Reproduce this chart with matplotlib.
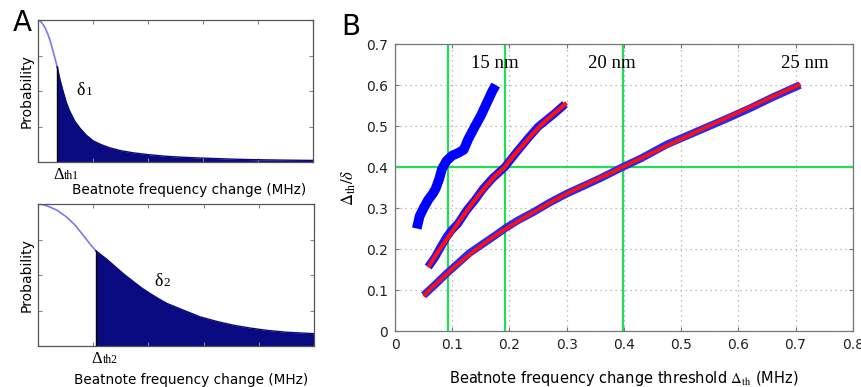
import matplotlib.pyplot as plt
import numpy as np

plt.rcParams['mathtext.fontset'] = 'stix'

# Panel A: probability curves (arbitrary units)
top_x = [0, 0.009, 0.018, 0.027, 0.036, 0.045, 0.055, 0.07, 0.08, 0.091, 0.103, 0.115, 0.133, 0.152, 0.175,
         0.2, 0.23, 0.261, 0.3, 0.345, 0.4, 0.467, 0.53, 0.588, 0.65, 0.709, 0.77, 0.83, 0.9, 1.0]
top_y = [1.0, 0.99, 0.97, 0.94, 0.90, 0.85, 0.78, 0.67, 0.58, 0.50, 0.42, 0.36, 0.29, 0.24, 0.19,
         0.15, 0.122, 0.10, 0.08, 0.065, 0.052, 0.04, 0.033, 0.028, 0.024, 0.02, 0.017, 0.015, 0.013, 0.011]
top_thr = 0.07

bot_x = [0, 0.021, 0.042, 0.07, 0.103, 0.135, 0.164, 0.19, 0.21, 0.25, 0.285, 0.315, 0.345, 0.375, 0.406,
         0.437, 0.467, 0.53, 0.588, 0.65, 0.709, 0.77, 0.83, 0.9, 1.0]
bot_y = [1.0, 0.995, 0.98, 0.955, 0.91, 0.85, 0.78, 0.715, 0.67, 0.61, 0.55, 0.50, 0.455, 0.41, 0.37,
         0.333, 0.30, 0.25, 0.205, 0.172, 0.146, 0.126, 0.11, 0.097, 0.087]
bot_thr = 0.21

# Panel B: measured curves (blue) and fits (red)
x15 = [0.038, 0.043, 0.050, 0.058, 0.066, 0.071, 0.077, 0.082, 0.090, 0.100, 0.110, 0.120, 0.128, 0.140,
       0.150, 0.160, 0.170, 0.176]
y15 = [0.25, 0.28, 0.30, 0.32, 0.335, 0.347, 0.37, 0.395, 0.415, 0.428, 0.434, 0.442, 0.468, 0.50,
       0.525, 0.555, 0.585, 0.60]

x20 = [0.058, 0.070, 0.080, 0.090, 0.099, 0.110, 0.125, 0.140, 0.154, 0.170, 0.192, 0.210, 0.230,
       0.250, 0.265, 0.280, 0.297]
y20 = [0.156, 0.18, 0.205, 0.229, 0.246, 0.262, 0.294, 0.32, 0.347, 0.372, 0.40, 0.432, 0.466,
       0.498, 0.515, 0.532, 0.553]
fx20 = [0.060, 0.070, 0.080, 0.090, 0.100, 0.112, 0.125, 0.137, 0.150, 0.162, 0.175, 0.192, 0.205,
        0.220, 0.235, 0.250, 0.262, 0.275, 0.287, 0.297]
fy20 = [0.16, 0.182, 0.203, 0.223, 0.243, 0.267, 0.292, 0.315, 0.338, 0.358, 0.378, 0.40, 0.424,
        0.448, 0.472, 0.495, 0.511, 0.527, 0.541, 0.553]

x25 = [0.050, 0.060, 0.070, 0.090, 0.110, 0.130, 0.154, 0.175, 0.192, 0.215, 0.242, 0.270, 0.300,
       0.330, 0.358, 0.398, 0.430, 0.475, 0.510, 0.550, 0.580, 0.620, 0.660, 0.708]
y25 = [0.087, 0.10, 0.113, 0.14, 0.165, 0.19, 0.213, 0.233, 0.25, 0.27, 0.29, 0.313, 0.335,
       0.354, 0.372, 0.40, 0.421, 0.455, 0.476, 0.50, 0.518, 0.543, 0.570, 0.60]
fx25 = [0.052, 0.065, 0.080, 0.100, 0.120, 0.140, 0.160, 0.180, 0.200, 0.225, 0.250, 0.275, 0.300,
        0.325, 0.350, 0.375, 0.398, 0.425, 0.450, 0.475, 0.500, 0.525, 0.550, 0.575, 0.600, 0.625,
        0.650, 0.675, 0.706]
fy25 = [0.088, 0.107, 0.125, 0.152, 0.175, 0.197, 0.218, 0.237, 0.255, 0.276, 0.296, 0.316, 0.335,
        0.352, 0.368, 0.384, 0.40, 0.418, 0.435, 0.452, 0.468, 0.485, 0.501, 0.517, 0.533, 0.549,
        0.565, 0.581, 0.60]

green_x = [0.093, 0.192, 0.398]
green_y = 0.4
labels = [('15 nm', 0.175), ('20 nm', 0.379), ('25 nm', 0.717)]

navy = '#0a0a80'
green = '#22dd55'

fig = plt.figure(figsize=(8.61, 3.87), dpi=100)

def prob_panel(rect, xs, ys, thr, delta_num, delta_pos):
    ax = fig.add_axes(rect)
    xs = np.array(xs)
    ys = np.array(ys)
    pre = xs <= thr
    ax.plot(xs[pre], ys[pre], color='#7a7aee', lw=1.2)
    post = xs >= thr
    ax.fill_between(xs[post], 0, ys[post], color=navy, lw=0)
    ax.plot(xs[post], ys[post], color=navy, lw=1)
    ax.plot([thr, thr], [0, ys[post][0]], color='black', lw=1)
    ax.set_xlim(0, 1)
    ax.set_ylim(0, 1)
    ax.set_xticks(np.arange(0, 1.01, 0.2))
    ax.set_yticks(np.arange(0, 1.01, 0.25))
    ax.tick_params(direction='in', length=3, top=True, right=True,
                   labelbottom=False, labelleft=False, color='#888888')
    for s in ax.spines.values():
        s.set_color('#555555')
        s.set_linewidth(0.9)
    ax.set_ylabel('Probability', fontsize=10, labelpad=3)
    # delta label: greek letter with small digit on baseline
    ax.text(delta_pos[0], delta_pos[1], '\u03b4', fontsize=13, family='Liberation Serif',
            ha='left', va='baseline')
    ax.annotate(delta_num, (delta_pos[0], delta_pos[1]), xytext=(7, 0), textcoords='offset points',
                fontsize=9.5, family='Liberation Serif', ha='left', va='baseline')
    # threshold label below axis
    ax.annotate('\u0394', (thr, 0), xytext=(-3, -12), textcoords='offset points',
                fontsize=12, family='Liberation Serif', ha='left', va='baseline')
    ax.annotate('th' + delta_num, (thr, 0), xytext=(5, -12), textcoords='offset points',
                fontsize=8.5, family='Liberation Serif', ha='left', va='baseline')
    return ax

ax1 = prob_panel([0.0441, 0.5814, 0.3194, 0.3669], top_x, top_y, top_thr, '1', (0.14, 0.47))
ax1.text(0.975, -0.145, 'Beatnote frequency change (MHz)', transform=ax1.transAxes,
         fontsize=9.8, ha='right', va='top')
ax2 = prob_panel([0.0441, 0.1059, 0.3206, 0.3669], bot_x, bot_y, bot_thr, '2', (0.42, 0.42))
ax2.text(0.98, -0.19, 'Beatnote frequency change (MHz)', transform=ax2.transAxes,
         fontsize=9.8, ha='right', va='top')

fig.text(0.026, 0.94, 'A', fontsize=20, ha='center', va='center')
fig.text(0.407, 0.93, 'B', fontsize=20, ha='center', va='center')

# Panel B
ax = fig.add_axes([0.4588, 0.1447, 0.5316, 0.7416])
ax.set_xlim(0, 0.8)
ax.set_ylim(0, 0.7)
ax.set_xticks(np.arange(0, 0.81, 0.1))
ax.set_yticks(np.arange(0, 0.71, 0.1))
ax.set_xticklabels(['0', '0.1', '0.2', '0.3', '0.4', '0.5', '0.6', '0.7', '0.8'])
ax.set_yticklabels(['0', '0.1', '0.2', '0.3', '0.4', '0.5', '0.6', '0.7'])
ax.grid(True, color='#aaaaaa', linestyle=(0, (1, 3)), lw=0.9)
ax.tick_params(direction='in', length=3, top=True, right=True, labelsize=10,
               color='#777777', labelcolor='#222222', pad=5)
for s in ax.spines.values():
    s.set_color('#777777')
    s.set_linewidth(0.9)

for gx in green_x:
    ax.axvline(gx, color=green, lw=1.6, zorder=2)
ax.axhline(green_y, color=green, lw=1.6, zorder=2)

ax.plot(x15, y15, color='#0000ff', lw=7, solid_capstyle='butt', solid_joinstyle='round', zorder=3)
ax.plot(x20, y20, color='#1515ff', lw=6, solid_capstyle='butt', solid_joinstyle='round', zorder=3)
ax.plot(x25, y25, color='#2a2aee', lw=5.5, solid_capstyle='butt', solid_joinstyle='round', zorder=3)
ax.plot(fx20, fy20, color='#ff1010', lw=3, zorder=4)
ax.plot(fx25, fy25, color='#ff1010', lw=2.6, zorder=4)

for txt, lx in labels:
    ax.text(lx, 0.652, txt, fontsize=13.5, family='Liberation Serif', ha='center', va='center', zorder=5)

ax.set_ylabel(r'$\Delta_{\rm th}/\delta$', fontsize=12, labelpad=6)
ax.set_xlabel(r'Beatnote frequency change threshold $\Delta_{\rm th}$ (MHz)', fontsize=10.5, labelpad=12)

fig.savefig('out.png', dpi=100)
